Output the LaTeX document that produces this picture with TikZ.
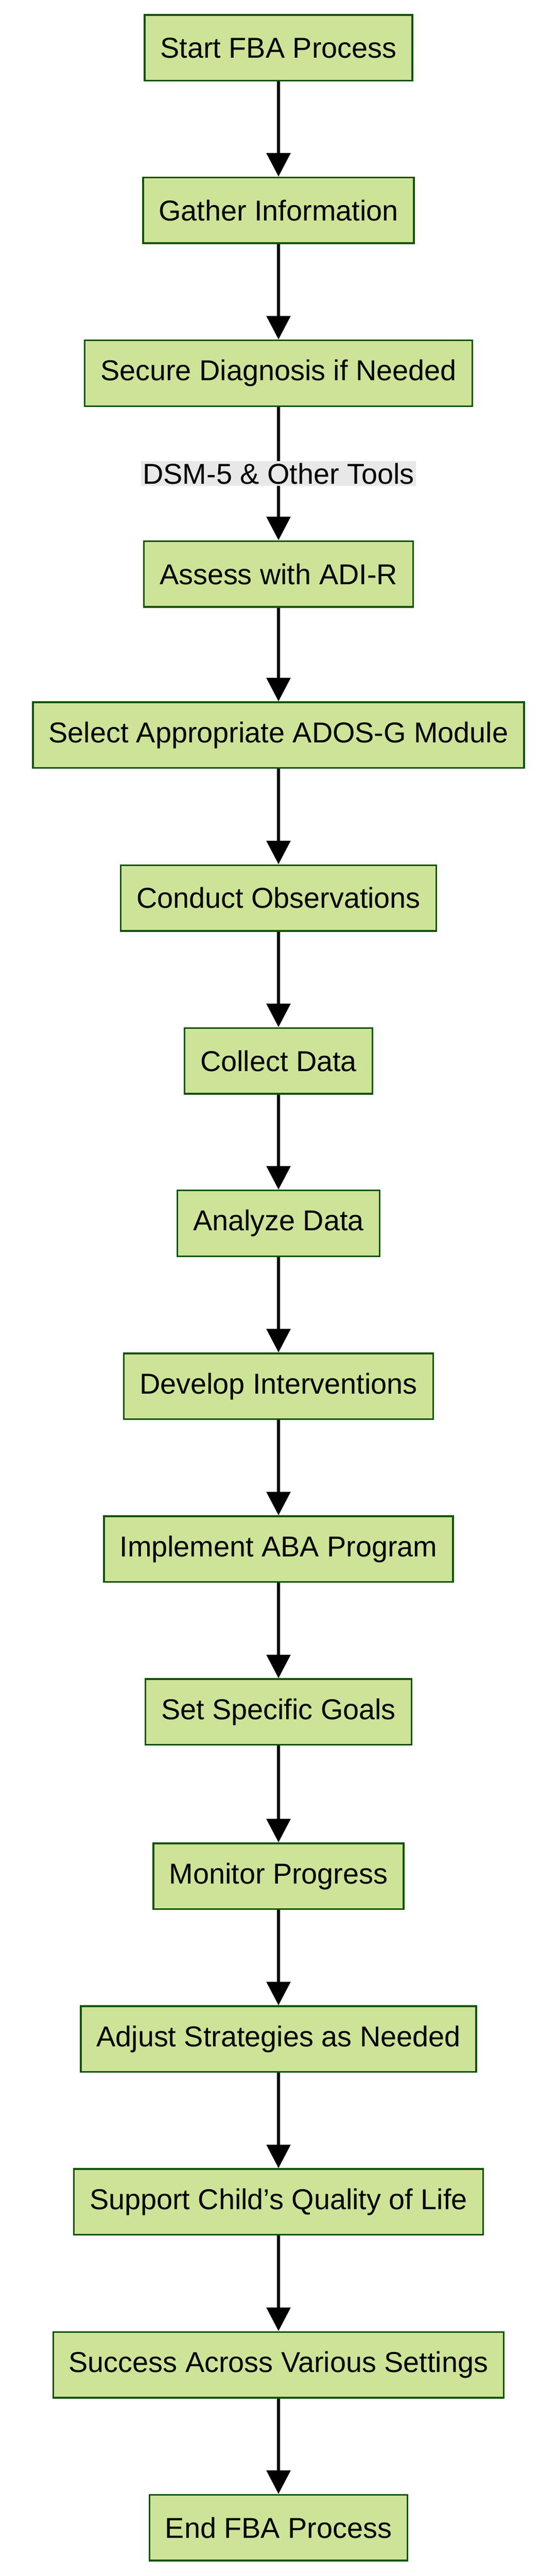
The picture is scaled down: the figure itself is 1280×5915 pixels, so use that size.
\documentclass[tikz,border=0pt]{standalone}
\usepackage{fontspec}
\setmainfont{Liberation Sans}
\usetikzlibrary{arrows.meta}
\begin{document}
\begin{tikzpicture}[x=1pt,y=-1pt,
  box/.style={draw=boxborder,fill=boxfill,line width=4pt,minimum height=151pt,inner xsep=36pt,font=\fontsize{66}{78}\selectfont},
  arr/.style={line width=8pt,-{Triangle[length=54pt,width=54pt]}},
  lbl/.style={fill=lblfill,inner sep=4pt,font=\fontsize{66}{78}\selectfont}]
\definecolor{boxfill}{HTML}{CDE498}
\definecolor{boxborder}{HTML}{13540C}
\definecolor{lblfill}{HTML}{E8E8E8}
\useasboundingbox (0,0) rectangle (1280,5915);
\node[box] (n1) at (640,110) {Start FBA Process};
\node[box] (n2) at (640,483) {Gather Information};
\node[box] (n3) at (640,857) {Secure Diagnosis if Needed};
\node[box] (n4) at (640,1318) {Assess with ADI-R};
\node[box] (n5) at (640,1688) {Select Appropriate ADOS-G Module};
\node[box] (n6) at (640,2062) {Conduct Observations};
\node[box] (n7) at (640,2436) {Collect Data};
\node[box] (n8) at (640,2809) {Analyze Data};
\node[box] (n9) at (640,3183) {Develop Interventions};
\node[box] (n10) at (640,3557) {Implement ABA Program};
\node[box] (n11) at (640,3931) {Set Specific Goals};
\node[box] (n12) at (640,4308) {Monitor Progress};
\node[box] (n13) at (640,4682) {Adjust Strategies as Needed};
\node[box] (n14) at (640,5056) {Support Child's Quality of Life};
\node[box] (n15) at (640,5430) {Success Across Various Settings};
\node[box] (n16) at (640,5804) {End FBA Process};
\draw[arr] (n1) -- (n2);
\draw[arr] (n2) -- (n3);
\draw[arr] (n3) -- node[lbl,pos=0.5] (l1) {DSM-5 \& Other Tools} (n4);
\draw[arr] (n4) -- (n5);
\draw[arr] (n5) -- (n6);
\draw[arr] (n6) -- (n7);
\draw[arr] (n7) -- (n8);
\draw[arr] (n8) -- (n9);
\draw[arr] (n9) -- (n10);
\draw[arr] (n10) -- (n11);
\draw[arr] (n11) -- (n12);
\draw[arr] (n12) -- (n13);
\draw[arr] (n13) -- (n14);
\draw[arr] (n14) -- (n15);
\draw[arr] (n15) -- (n16);
\end{tikzpicture}
\end{document}
